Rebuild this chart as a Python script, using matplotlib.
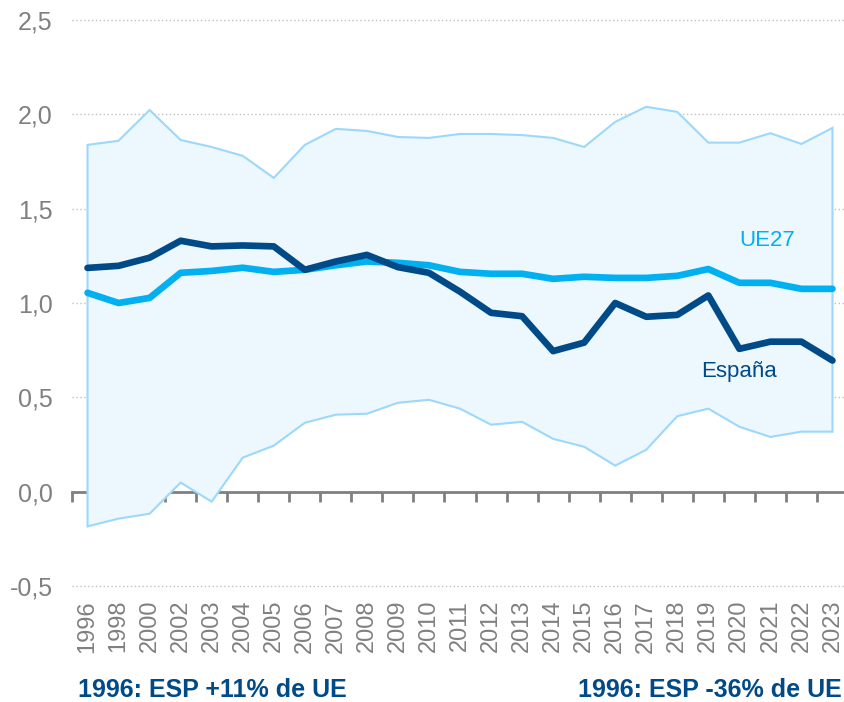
import numpy as np
import matplotlib
matplotlib.use("Agg")
import matplotlib.pyplot as plt

plt.rcParams["font.family"] = ["Liberation Sans", "DejaVu Sans"]

years = ["1996", "1998", "2000", "2002", "2003", "2004", "2005", "2006", "2007",
         "2008", "2009", "2010", "2011", "2012", "2013", "2014", "2015", "2016",
         "2017", "2018", "2019", "2020", "2021", "2022", "2023"]

espana = [1.186, 1.197, 1.24, 1.33, 1.30, 1.305, 1.30, 1.176, 1.22, 1.255, 1.19,
          1.16, 1.06, 0.948, 0.93, 0.745, 0.79, 1.00, 0.927, 0.937, 1.04, 0.757,
          0.795, 0.795, 0.695]

ue27 = [1.054, 1.0, 1.027, 1.16, 1.17, 1.187, 1.165, 1.176, 1.2, 1.22, 1.213,
        1.2, 1.165, 1.155, 1.155, 1.128, 1.139, 1.133, 1.133, 1.144, 1.18, 1.107,
        1.107, 1.075, 1.075]

band_max = [1.838, 1.86, 2.023, 1.864, 1.827, 1.78, 1.663, 1.838, 1.923, 1.912,
            1.88, 1.875, 1.896, 1.896, 1.89, 1.875, 1.827, 1.96, 2.04, 2.013,
            1.85, 1.85, 1.90, 1.843, 1.928]

band_min = [-0.184, -0.143, -0.117, 0.048, -0.053, 0.18, 0.244, 0.365, 0.408,
            0.413, 0.471, 0.487, 0.44, 0.355, 0.37, 0.28, 0.238, 0.138, 0.222,
            0.40, 0.44, 0.344, 0.29, 0.318, 0.318]

dark = "#004A87"
light = "#00B0F0"
band_edge = "#9DD8FA"
band_fill = "#ECF7FE"
grey = "#808080"

x = np.arange(len(years))

fig = plt.figure(figsize=(8.44, 7.02), dpi=100)
ax = fig.add_axes([72 / 844, (702 - 586) / 702, (848 - 72) / 844, 566 / 702])

# band of countries
poly_x = np.concatenate([x, x[::-1]])
poly_y = np.concatenate([band_max, band_min[::-1]])
ax.fill(poly_x, poly_y, facecolor=band_fill, edgecolor=band_edge, linewidth=1.5, zorder=2)

ax.plot(x, ue27, color=light, linewidth=4.8, solid_capstyle="round",
        solid_joinstyle="round", zorder=4)
ax.plot(x, espana, color=dark, linewidth=4.8, solid_capstyle="round",
        solid_joinstyle="round", zorder=5)

ax.set_xlim(-0.5, len(years) - 0.5)
ax.set_ylim(-0.5, 2.5)

yt = [-0.5, 0.0, 0.5, 1.0, 1.5, 2.0, 2.5]
ax.set_yticks(yt)
ax.set_yticklabels([f"{v:.1f}".replace(".", ",") for v in yt])
ax.tick_params(axis="y", length=0, pad=14, labelsize=18, labelcolor=grey)

for v in yt:
    if v != 0:
        ax.axhline(v, color="#BFBFBF", linestyle=(0, (1, 1.8)), linewidth=1.0,
                   zorder=1, clip_on=False)

ax.set_xticks(x)
ax.set_xticklabels(years, rotation=90)
ax.tick_params(axis="x", length=0, pad=10, labelsize=17, labelcolor=grey)

for s in ax.spines.values():
    s.set_visible(False)

# axis line at zero with ticks between categories
sec = ax.secondary_xaxis(0.5 / 3.0)
sec.set_xticks(np.arange(-0.5, len(years), 1.0))
sec.set_xticklabels([])
sec.tick_params(axis="x", length=7, width=2, color=grey, direction="out")
sec.spines["bottom"].set_color(grey)
sec.spines["bottom"].set_linewidth(2)

ax.text(21.9, 1.33, "UE27", color=light, fontsize=16, ha="center", va="center")
ax.text(21.0, 0.635, "España", color=dark, fontsize=16, ha="center", va="center")

fig.text(78 / 844, 1 - 690 / 702, "1996: ESP +11% de UE", color=dark, fontsize=18,
         fontweight="bold", ha="left", va="center")
fig.text(842 / 844, 1 - 690 / 702, "1996: ESP -36% de UE", color=dark, fontsize=18,
         fontweight="bold", ha="right", va="center")

fig.savefig("out.png", dpi=100)
